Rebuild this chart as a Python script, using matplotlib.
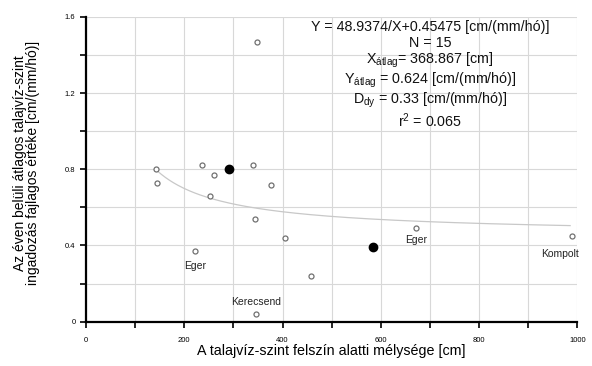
import numpy as np
import matplotlib.pyplot as plt

plt.rcParams['font.family'] = ['Liberation Sans', 'DejaVu Sans']

# open circles
open_x = [142, 145, 237, 260, 253, 339, 376, 349, 345, 405, 222, 346, 458, 671, 988]
open_y = [0.80, 0.73, 0.82, 0.77, 0.66, 0.82, 0.72, 1.47, 0.54, 0.44, 0.37, 0.04, 0.24, 0.49, 0.45]
# filled circles
fill_x = [292, 585]
fill_y = [0.80, 0.39]

# fitted curve Y = a/X + b (coefficients printed on the chart)
fit_a = 48.9374
fit_b = 0.45475
fit_xmin, fit_xmax = 145, 985

labels = ["Eger", "Kerecsend", "Eger", "Kompolt"]
label_x = [222, 346, 671, 964]
label_y = [0.29, 0.105, 0.43, 0.355]

stats_lines = [
    "Y = 48.9374/X+0.45475 [cm/(mm/hó)]",
    "N = 15",
    r"X$\mathregular{_{átlag}}$= 368.867 [cm]",
    r"Y$\mathregular{_{átlag}}$ = 0.624 [cm/(mm/hó)]",
    r"D$\mathregular{_{dy}}$ = 0.33 [cm/(mm/hó)]",
    r"r$\mathregular{^2}$ = 0.065",
]

fig = plt.figure(figsize=(5.92, 3.66), dpi=100)
ax = fig.add_axes([0.145, 0.121, 0.8305, 0.833])

xs = np.linspace(fit_xmin, fit_xmax, 300)
ax.plot(xs, fit_a / xs + fit_b, color="#c8c8c8", lw=0.9, zorder=2)

ax.plot(open_x, open_y, "o", ms=3.6, mfc="white", mec="#707070", mew=0.9, zorder=4)
ax.plot(fill_x, fill_y, "o", ms=6, color="black", zorder=5)

for t, lx, ly in zip(labels, label_x, label_y):
    ax.text(lx, ly, t, ha="center", va="center", fontsize=7.5, color="#222222")

line_y = [1.548, 1.462, 1.372, 1.268, 1.163, 1.055]
for t, yy in zip(stats_lines, line_y):
    ax.text(700, yy, t, ha="center", va="center", fontsize=10.3, color="#111111")

ax.set_xlim(0, 1000)
ax.set_ylim(0, 1.6)
ax.set_xticks(np.arange(0, 1001, 200))
ax.set_xticks(np.arange(0, 1001, 100), minor=True)
ax.set_yticks([0, 0.4, 0.8, 1.2, 1.6])
ax.set_yticklabels(["0", "0.4", "0.8", "1.2", "1.6"])
ax.set_yticks(np.arange(0, 1.61, 0.2), minor=True)
ax.grid(True, which="both", color="#d8d8d8", lw=0.8, zorder=0)
ax.set_axisbelow(True)

for s in ["top", "right"]:
    ax.spines[s].set_visible(False)
for s in ["left", "bottom"]:
    ax.spines[s].set_linewidth(1.6)
ax.tick_params(which="both", direction="out", length=4, width=1.2, labelsize=5.5, colors="black")
ax.tick_params(axis="x", pad=7)

ax.set_xlabel("A talajvíz-szint felszín alatti mélysége [cm]", fontsize=10.3, labelpad=0)
ax.set_ylabel("Az éven belüli átlagos talajvíz-szint\ningadozás fajlagos értéke [cm/(mm/hó)]",
              fontsize=10, linespacing=0.95)
ax.yaxis.set_label_coords(-0.093, 0.52)

fig.savefig("out.png", dpi=100)
